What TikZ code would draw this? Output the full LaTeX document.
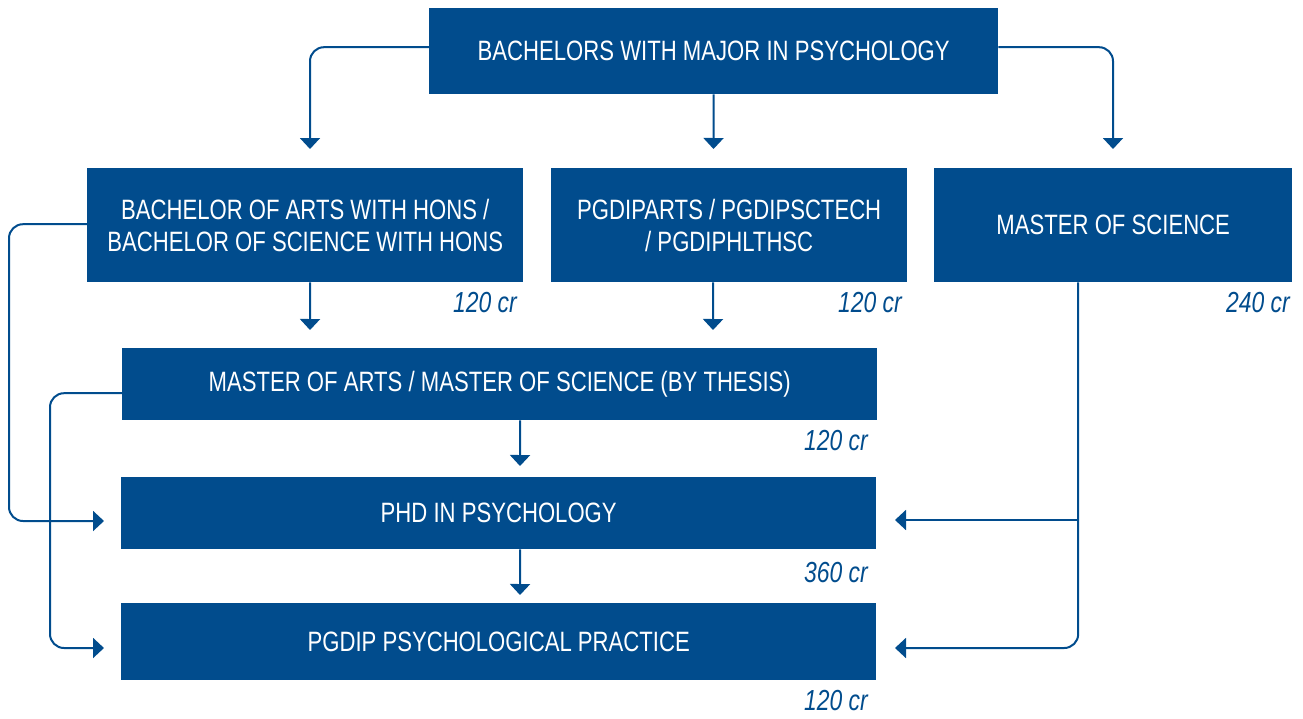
\documentclass[tikz,border=0pt]{standalone}
\usepackage{fontspec}
\setmainfont{Liberation Sans}[FakeStretch=0.79]
\usetikzlibrary{arrows.meta}
\definecolor{uniblue}{RGB}{1,76,141}
\begin{document}
\begin{tikzpicture}[x=1pt,y=-1pt,
  box/.style={fill=uniblue,text=white,anchor=north west,inner sep=0pt,align=center,
    font=\fontsize{28}{32}\selectfont},
  cr/.style={text=uniblue,anchor=east,inner sep=0pt,font=\fontsize{29}{30}\selectfont\itshape},
  conn/.style={draw=uniblue,line width=2pt,rounded corners=14pt,
    -{Triangle[length=11pt,width=20pt]}}]
\useasboundingbox (0,0) rectangle (1303,718);
% boxes
\node[box,minimum width=569pt,minimum height=86pt] (T) at (429,8) {BACHELORS WITH MAJOR IN PSYCHOLOGY};
\node[box,minimum width=436pt,minimum height=114pt] (A) at (87,168) {BACHELOR OF ARTS WITH HONS /\\BACHELOR OF SCIENCE WITH HONS};
\node[box,minimum width=356pt,minimum height=114pt] (B) at (551,168) {PGDIPARTS / PGDIPSCTECH\\/ PGDIPHLTHSC};
\node[box,minimum width=358pt,minimum height=114pt] (C) at (934,168) {MASTER OF SCIENCE};
\node[box,minimum width=755pt,minimum height=72pt] (M) at (122,348) {MASTER OF ARTS / MASTER OF SCIENCE (BY THESIS)};
\node[box,minimum width=755pt,minimum height=72pt] (P) at (121,477) {PHD IN PSYCHOLOGY};
\node[box,minimum width=755pt,minimum height=77pt] (G) at (121,603) {PGDIP PSYCHOLOGICAL PRACTICE};
% credit labels
\node[cr] (crA) at (517,303) {120 cr};
\node[cr] (crB) at (902,303) {120 cr};
\node[cr] (crC) at (1290,303) {240 cr};
\node[cr] (crM) at (868,441) {120 cr};
\node[cr] (crP) at (868,573) {360 cr};
\node[cr] (crG) at (868,701) {120 cr};
% arrow tip coordinates
\coordinate (tA) at (310,149);
\coordinate (tB) at (713.5,149);
\coordinate (tC) at (1113,149);
\coordinate (tMa) at (310,330);
\coordinate (tMb) at (713,330);
\coordinate (tP) at (520,466);
\coordinate (tG) at (520,595);
\coordinate (tPL) at (104,521);
\coordinate (tGL) at (104,648);
\coordinate (tPR) at (895,520);
\coordinate (tGR) at (895,648);
\coordinate (jn) at (1078,520);
% connectors
\draw[conn] ([yshift=4pt]T.west) -| (tA);
\draw[conn] (T.south) -- (tB);
\draw[conn] ([yshift=4pt]T.east) -| (tC);
\draw[conn] ([xshift=5pt]A.south) -- (tMa);
\draw[conn] ([xshift=-16pt]B.south) -- (tMb);
\draw[conn] ([xshift=20.5pt]M.south) -- (tP);
\draw[conn] ([xshift=21.5pt]P.south) -- (tG);
\draw[conn] ([yshift=1pt]A.west) -| (9,521) -- (tPL);
\draw[conn] ([yshift=-9pt]M.west) -| (50,648) -- (tGL);
\draw[conn] ([xshift=-35pt]C.south) |- (tGR);
\draw[conn] (jn) -- (tPR);
\end{tikzpicture}
\end{document}
